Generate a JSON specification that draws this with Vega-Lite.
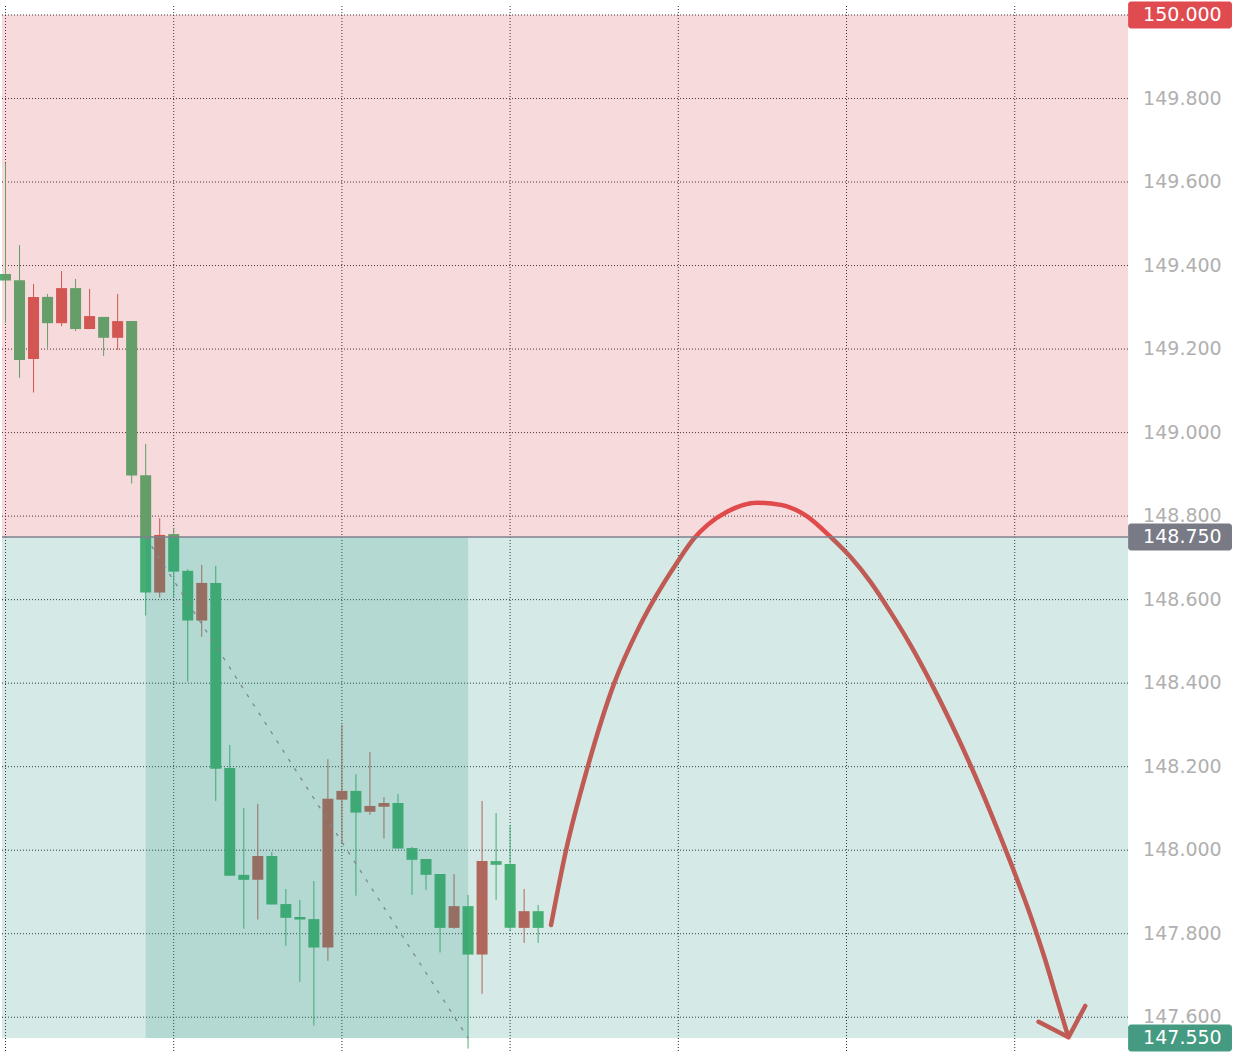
{
  "$schema": "https://vega.github.io/schema/vega-lite/v6.json",
  "width": 1236,
  "height": 1056,
  "padding": 0,
  "autosize": {"type": "fit", "contains": "padding"},
  "background": "#ffffff",
  "config": {"view": {"stroke": null}},
  "datasets": {
    "candles": [
      {"i": 0, "open": 149.380, "high": 149.646, "low": 149.263, "close": 149.364},
      {"i": 1, "open": 149.365, "high": 149.449, "low": 149.131, "close": 149.174},
      {"i": 2, "open": 149.176, "high": 149.356, "low": 149.096, "close": 149.325},
      {"i": 3, "open": 149.325, "high": 149.332, "low": 149.203, "close": 149.262},
      {"i": 4, "open": 149.262, "high": 149.387, "low": 149.255, "close": 149.346},
      {"i": 5, "open": 149.346, "high": 149.368, "low": 149.243, "close": 149.248},
      {"i": 6, "open": 149.248, "high": 149.344, "low": 149.248, "close": 149.279},
      {"i": 7, "open": 149.277, "high": 149.277, "low": 149.183, "close": 149.227},
      {"i": 8, "open": 149.227, "high": 149.332, "low": 149.198, "close": 149.267},
      {"i": 9, "open": 149.267, "high": 149.267, "low": 148.878, "close": 148.897},
      {"i": 10, "open": 148.898, "high": 148.973, "low": 148.562, "close": 148.617},
      {"i": 11, "open": 148.617, "high": 148.795, "low": 148.605, "close": 148.755},
      {"i": 12, "open": 148.757, "high": 148.772, "low": 148.605, "close": 148.667},
      {"i": 13, "open": 148.669, "high": 148.673, "low": 148.404, "close": 148.550},
      {"i": 14, "open": 148.550, "high": 148.683, "low": 148.511, "close": 148.640},
      {"i": 15, "open": 148.640, "high": 148.681, "low": 148.118, "close": 148.195},
      {"i": 16, "open": 148.197, "high": 148.252, "low": 147.939, "close": 147.939},
      {"i": 17, "open": 147.941, "high": 148.101, "low": 147.812, "close": 147.929},
      {"i": 18, "open": 147.929, "high": 148.111, "low": 147.834, "close": 147.986},
      {"i": 19, "open": 147.986, "high": 147.996, "low": 147.870, "close": 147.870},
      {"i": 20, "open": 147.871, "high": 147.907, "low": 147.771, "close": 147.838},
      {"i": 21, "open": 147.840, "high": 147.881, "low": 147.685, "close": 147.834},
      {"i": 22, "open": 147.835, "high": 147.926, "low": 147.580, "close": 147.767},
      {"i": 23, "open": 147.767, "high": 148.218, "low": 147.735, "close": 148.123},
      {"i": 24, "open": 148.121, "high": 148.300, "low": 148.017, "close": 148.142},
      {"i": 25, "open": 148.142, "high": 148.182, "low": 147.891, "close": 148.090},
      {"i": 26, "open": 148.092, "high": 148.235, "low": 148.085, "close": 148.106},
      {"i": 27, "open": 148.104, "high": 148.127, "low": 148.028, "close": 148.113},
      {"i": 28, "open": 148.113, "high": 148.135, "low": 148.004, "close": 148.004},
      {"i": 29, "open": 148.005, "high": 148.008, "low": 147.893, "close": 147.977},
      {"i": 30, "open": 147.979, "high": 147.979, "low": 147.905, "close": 147.941},
      {"i": 31, "open": 147.943, "high": 147.943, "low": 147.755, "close": 147.814},
      {"i": 32, "open": 147.814, "high": 147.943, "low": 147.812, "close": 147.866},
      {"i": 33, "open": 147.866, "high": 147.893, "low": 147.525, "close": 147.750},
      {"i": 34, "open": 147.750, "high": 148.118, "low": 147.656, "close": 147.974},
      {"i": 35, "open": 147.974, "high": 148.089, "low": 147.881, "close": 147.965},
      {"i": 36, "open": 147.967, "high": 148.060, "low": 147.807, "close": 147.814},
      {"i": 37, "open": 147.814, "high": 147.907, "low": 147.778, "close": 147.854},
      {"i": 38, "open": 147.854, "high": 147.869, "low": 147.778, "close": 147.814}
    ],
    "hgrid": [
      {"price": 147.6}, {"price": 147.8}, {"price": 148.0}, {"price": 148.2},
      {"price": 148.4}, {"price": 148.6}, {"price": 148.8}, {"price": 149.0},
      {"price": 149.2}, {"price": 149.4}, {"price": 149.6}, {"price": 149.8},
      {"price": 150.0}
    ],
    "vgrid": [
      {"t": 0}, {"t": 12}, {"t": 24}, {"t": 36}, {"t": 48}, {"t": 60}, {"t": 72}
    ],
    "arc": [
      {"seq": 0, "t": 38.92, "price": 147.821},
      {"seq": 1, "t": 39.99, "price": 148.000},
      {"seq": 2, "t": 41.54, "price": 148.200},
      {"seq": 3, "t": 43.43, "price": 148.400},
      {"seq": 4, "t": 45.10, "price": 148.527},
      {"seq": 5, "t": 46.28, "price": 148.601},
      {"seq": 6, "t": 47.95, "price": 148.691},
      {"seq": 7, "t": 49.13, "price": 148.747},
      {"seq": 8, "t": 50.09, "price": 148.779},
      {"seq": 9, "t": 51.51, "price": 148.811},
      {"seq": 10, "t": 53.65, "price": 148.832},
      {"seq": 11, "t": 55.31, "price": 148.827},
      {"seq": 12, "t": 57.21, "price": 148.799},
      {"seq": 13, "t": 58.87, "price": 148.750},
      {"seq": 14, "t": 60.29, "price": 148.702},
      {"seq": 15, "t": 61.72, "price": 148.642},
      {"seq": 16, "t": 63.14, "price": 148.570},
      {"seq": 17, "t": 64.57, "price": 148.491},
      {"seq": 18, "t": 65.99, "price": 148.403},
      {"seq": 19, "t": 67.42, "price": 148.307},
      {"seq": 20, "t": 68.84, "price": 148.204},
      {"seq": 21, "t": 70.26, "price": 148.092},
      {"seq": 22, "t": 71.69, "price": 147.972},
      {"seq": 23, "t": 73.11, "price": 147.845},
      {"seq": 24, "t": 74.18, "price": 147.737},
      {"seq": 25, "t": 75.03, "price": 147.641},
      {"seq": 26, "t": 75.82, "price": 147.553}
    ],
    "arrowhead": [
      {"seq": 0, "t": 73.70, "price": 147.589},
      {"seq": 1, "t": 75.84, "price": 147.552},
      {"seq": 2, "t": 77.03, "price": 147.627}
    ],
    "zones": [
      {"zone": "stop", "low": 148.75, "high": 150.0},
      {"zone": "target", "low": 147.55, "high": 148.75}
    ],
    "box": [
      {"start": 10, "end": 33, "low": 147.55, "high": 148.75}
    ],
    "diag": [
      {"t": 10, "price": 148.75},
      {"t": 33, "price": 147.55}
    ],
    "badges": [
      {"level": "stop", "price": 150.0},
      {"level": "entry", "price": 148.75},
      {"level": "target", "price": 147.55}
    ]
  },
  "layer": [
    {
      "data": {"name": "vgrid"},
      "mark": {"type": "rule", "stroke": "#2a2a2a", "strokeWidth": 1, "strokeDash": [1, 2]},
      "encoding": {
        "x": {
          "field": "t", "type": "quantitative", "axis": null,
          "scale": {"domain": [0.1068, 87.43], "nice": false, "zero": false}
        },
        "y": {
          "datum": 147.51916, "type": "quantitative", "axis": null,
          "scale": {"domain": [147.51916, 150.02395], "nice": false, "zero": false}
        },
        "y2": {"datum": 150.02395}
      }
    },
    {
      "data": {"name": "hgrid"},
      "mark": {"type": "rule", "stroke": "#2a2a2a", "strokeWidth": 1, "strokeDash": [1, 2]},
      "encoding": {
        "x": {"datum": -0.25, "type": "quantitative", "axis": null},
        "x2": {"datum": 80.09},
        "y": {"field": "price", "type": "quantitative", "axis": null}
      }
    },
    {
      "data": {"name": "candles"},
      "mark": {"type": "rule", "strokeWidth": 1},
      "encoding": {
        "x": {"field": "i", "type": "quantitative", "axis": null},
        "y": {"field": "low", "type": "quantitative", "axis": null},
        "y2": {"field": "high"},
        "color": {"condition": {"test": "datum.close < datum.open", "value": "#4AB470"}, "value": "#D25B52"}
      }
    },
    {
      "data": {"name": "candles"},
      "mark": {"type": "bar", "size": 11},
      "encoding": {
        "x": {"field": "i", "type": "quantitative", "axis": null},
        "y": {"field": "open", "type": "quantitative", "axis": null},
        "y2": {"field": "close"},
        "color": {"condition": {"test": "datum.close < datum.open", "value": "#4AB470"}, "value": "#D25B52"}
      }
    },
    {
      "data": {"name": "arc"},
      "mark": {"type": "line", "stroke": "#E54C4A", "strokeWidth": 4.5, "strokeCap": "round", "strokeJoin": "round", "interpolate": "monotone"},
      "encoding": {
        "x": {"field": "t", "type": "quantitative", "axis": null},
        "y": {"field": "price", "type": "quantitative", "axis": null},
        "order": {"field": "seq"}
      }
    },
    {
      "data": {"name": "arrowhead"},
      "mark": {"type": "line", "stroke": "#E54C4A", "strokeWidth": 4.5, "strokeCap": "round", "strokeJoin": "round"},
      "encoding": {
        "x": {"field": "t", "type": "quantitative", "axis": null},
        "y": {"field": "price", "type": "quantitative", "axis": null},
        "order": {"field": "seq"}
      }
    },
    {
      "data": {"name": "zones"},
      "mark": {"type": "rect", "opacity": 0.2},
      "encoding": {
        "x": {"datum": -0.25, "type": "quantitative", "axis": null},
        "x2": {"datum": 80.09},
        "y": {"field": "low", "type": "quantitative", "axis": null},
        "y2": {"field": "high"},
        "color": {"condition": {"test": "datum.zone === 'stop'", "value": "#D24650"}, "value": "#2D9682"}
      }
    },
    {
      "data": {"name": "box"},
      "mark": {"type": "rect", "opacity": 0.2, "color": "#2D9682"},
      "encoding": {
        "x": {"field": "start", "type": "quantitative", "axis": null},
        "x2": {"field": "end"},
        "y": {"field": "low", "type": "quantitative", "axis": null},
        "y2": {"field": "high"}
      }
    },
    {
      "data": {"name": "badges"},
      "transform": [{"filter": "datum.level === 'entry'"}],
      "mark": {"type": "rule", "stroke": "#7E818C", "strokeWidth": 1.3},
      "encoding": {
        "x": {"datum": -0.25, "type": "quantitative", "axis": null},
        "x2": {"datum": 80.09},
        "y": {"field": "price", "type": "quantitative", "axis": null}
      }
    },
    {
      "data": {"name": "diag"},
      "mark": {"type": "line", "stroke": "#80848F", "strokeWidth": 1.3, "strokeDash": [3.5, 7.5]},
      "encoding": {
        "x": {"field": "t", "type": "quantitative", "axis": null},
        "y": {"field": "price", "type": "quantitative", "axis": null}
      }
    },
    {
      "data": {"name": "hgrid"},
      "mark": {"type": "text", "align": "left", "baseline": "middle", "font": "DejaVu Sans", "fontSize": 19, "fill": "#B0B0B0"},
      "encoding": {
        "x": {"datum": 81.16, "type": "quantitative", "axis": null},
        "y": {"field": "price", "type": "quantitative", "axis": null},
        "text": {"field": "price", "type": "quantitative", "format": ".3f"}
      }
    },
    {
      "data": {"name": "badges"},
      "mark": {"type": "bar", "size": 27, "cornerRadius": 3},
      "encoding": {
        "x": {"datum": 80.09, "type": "quantitative", "axis": null},
        "x2": {"datum": 87.5},
        "y": {"field": "price", "type": "quantitative", "axis": null},
        "color": {
          "condition": [
            {"test": "datum.level === 'stop'", "value": "#E04B50"},
            {"test": "datum.level === 'entry'", "value": "#787B86"}
          ],
          "value": "#459A82"
        }
      }
    },
    {
      "data": {"name": "badges"},
      "mark": {"type": "text", "align": "left", "baseline": "middle", "font": "DejaVu Sans", "fontSize": 19, "fill": "#ffffff"},
      "encoding": {
        "x": {"datum": 81.16, "type": "quantitative", "axis": null},
        "y": {"field": "price", "type": "quantitative", "axis": null},
        "text": {"field": "price", "type": "quantitative", "format": ".3f"}
      }
    }
  ]
}
